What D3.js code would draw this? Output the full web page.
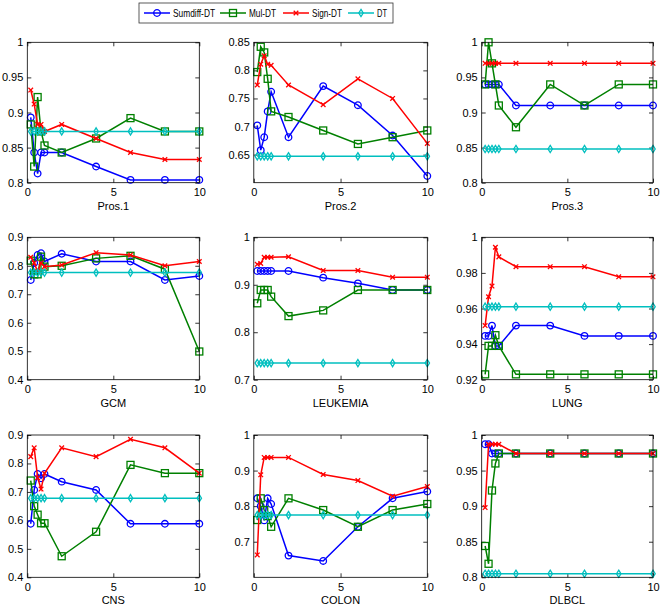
<!DOCTYPE html>
<html>
<head>
<meta charset="utf-8">
<script src="https://d3js.org/d3.v7.min.js"></script>
<style>
  body { margin: 0; background: #fff; }
  svg { display: block; font-family: "Liberation Sans", Arial, Helvetica, sans-serif; }
</style>
</head>
<body>
<svg width="661" height="608"></svg>
<script>
// parameter values on the x axis
const params = [0.2, 0.4, 0.6, 0.8, 1, 2, 4, 6, 8, 10];

const datasets = ["Pros.1", "Pros.2", "Pros.3", "GCM", "LEUKEMIA", "LUNG", "CNS", "COLON", "DLBCL"];
const methods = ["Sumdiff-DT", "Mul-DT", "Sign-DT", "DT"];

const sumdiffDT = [
    [0.893, 0.843, 0.813, 0.843, 0.843, 0.843, 0.823, 0.804, 0.804, 0.804],
    [0.702, 0.658, 0.681, 0.727, 0.762, 0.681, 0.772, 0.738, 0.684, 0.612],
    [0.94, 0.94, 0.94, 0.94, 0.94, 0.91, 0.91, 0.91, 0.91, 0.91],
    [0.75, 0.81, 0.838, 0.844, 0.815, 0.842, 0.815, 0.815, 0.75, 0.764],
    [0.929, 0.929, 0.929, 0.929, 0.929, 0.929, 0.915, 0.903, 0.889, 0.889],
    [0.9446, 0.9446, 0.9504, 0.939, 0.939, 0.9504, 0.9504, 0.9446, 0.9446, 0.9446],
    [0.588, 0.707, 0.763, 0.748, 0.763, 0.736, 0.707, 0.588, 0.588, 0.588],
    [0.822, 0.8, 0.76, 0.822, 0.806, 0.661, 0.646, 0.742, 0.822, 0.841],
    [0.987, 0.987, 0.974, 0.974, 0.974, 0.974, 0.974, 0.974, 0.974, 0.974]
];
const mulDT = [
    [0.883, 0.823, 0.922, 0.873, 0.853, 0.843, 0.863, 0.892, 0.873, 0.873],
    [0.797, 0.842, 0.832, 0.785, 0.727, 0.717, 0.693, 0.669, 0.681, 0.693],
    [0.94, 1.0, 0.97, 0.94, 0.91, 0.879, 0.94, 0.91, 0.94, 0.94],
    [0.818, 0.77, 0.77, 0.832, 0.797, 0.8, 0.826, 0.835, 0.788, 0.499],
    [0.861, 0.889, 0.889, 0.889, 0.875, 0.834, 0.846, 0.889, 0.889, 0.889],
    [0.923, 0.939, 0.939, 0.945, 0.939, 0.923, 0.923, 0.923, 0.923, 0.923],
    [0.74, 0.65, 0.62, 0.59, 0.59, 0.474, 0.56, 0.795, 0.766, 0.766],
    [0.761, 0.822, 0.789, 0.772, 0.742, 0.822, 0.789, 0.742, 0.789, 0.806],
    [0.844, 0.819, 0.922, 0.96, 0.974, 0.974, 0.974, 0.974, 0.974, 0.974]
];
const signDT = [
    [0.932, 0.912, 0.883, 0.883, 0.873, 0.883, 0.863, 0.843, 0.833, 0.833],
    [0.774, 0.811, 0.826, 0.811, 0.809, 0.774, 0.739, 0.785, 0.75, 0.67],
    [0.97, 0.97, 0.97, 0.97, 0.97, 0.97, 0.97, 0.97, 0.97, 0.97],
    [0.83, 0.81, 0.78, 0.81, 0.797, 0.803, 0.846, 0.838, 0.8, 0.815],
    [0.943, 0.945, 0.958, 0.958, 0.958, 0.959, 0.93, 0.93, 0.916, 0.916],
    [0.9504, 0.9666, 0.9726, 0.9944, 0.989, 0.9835, 0.9835, 0.9835, 0.9778, 0.9778],
    [0.824, 0.855, 0.75, 0.71, 0.765, 0.855, 0.824, 0.885, 0.855, 0.766],
    [0.663, 0.888, 0.937, 0.937, 0.937, 0.937, 0.889, 0.872, 0.828, 0.855],
    [0.898, 0.987, 0.987, 0.987, 0.987, 0.974, 0.974, 0.974, 0.974, 0.974]
];
const plainDT = [
    [0.873, 0.873, 0.873, 0.873, 0.873, 0.873, 0.873, 0.873, 0.873, 0.873],
    [0.647, 0.647, 0.647, 0.647, 0.647, 0.647, 0.647, 0.647, 0.647, 0.647],
    [0.848, 0.848, 0.848, 0.848, 0.848, 0.848, 0.848, 0.848, 0.848, 0.848],
    [0.776, 0.776, 0.776, 0.776, 0.776, 0.776, 0.776, 0.776, 0.776, 0.776],
    [0.735, 0.735, 0.735, 0.735, 0.735, 0.735, 0.735, 0.735, 0.735, 0.735],
    [0.961, 0.961, 0.961, 0.961, 0.961, 0.961, 0.961, 0.961, 0.961, 0.961],
    [0.678, 0.678, 0.678, 0.678, 0.678, 0.678, 0.678, 0.678, 0.678, 0.678],
    [0.775, 0.775, 0.775, 0.775, 0.775, 0.775, 0.775, 0.775, 0.775, 0.775],
    [0.805, 0.805, 0.805, 0.805, 0.805, 0.805, 0.805, 0.805, 0.805, 0.805]
];

// axis ranges and tick labels for each panel
const yDomains = [[0.8, 1], [0.6, 0.85], [0.8, 1], [0.4, 0.9], [0.7, 1], [0.92, 1], [0.4, 0.9], [0.6, 1], [0.8, 1]];
const yTicks = [
    [0.8, 0.85, 0.9, 0.95, 1],
    [0.65, 0.7, 0.75, 0.8, 0.85],
    [0.8, 0.85, 0.9, 0.95, 1],
    [0.4, 0.5, 0.6, 0.7, 0.8, 0.9],
    [0.7, 0.8, 0.9, 1],
    [0.92, 0.94, 0.96, 0.98, 1],
    [0.4, 0.5, 0.6, 0.7, 0.8, 0.9],
    [0.7, 0.8, 0.9, 1],
    [0.8, 0.85, 0.9, 0.95, 1]
];
const xTicks = [0, 5, 10];

const seriesData = [sumdiffDT, mulDT, signDT, plainDT];
const colors = ["#0000ff", "#008000", "#ff0000", "#00bfbf"];
const markers = ["circle", "square", "cross", "diamond"];

// panel grid (pixels)
const colLeft = [27.3, 253.8, 481.7];
const colRight = [199.3, 427.3, 653];
const rowTop = [42.3, 237.3, 435];
const rowBottom = [182.7, 379.7, 577.3];

const svg = d3.select("svg");
const fmt = v => String(+v.toFixed(2));

function drawMarker(g, type, color) {
    if (type === "circle") {
        g.append("circle").attr("r", 3.3).attr("fill", "none").attr("stroke", color).attr("stroke-width", 1.3);
    } else if (type === "square") {
        g.append("rect").attr("x", -3.5).attr("y", -3.5).attr("width", 7).attr("height", 7)
            .attr("fill", "none").attr("stroke", color).attr("stroke-width", 1.3);
    } else if (type === "cross") {
        g.append("path").attr("d", "M-2.3,-2.3L2.3,2.3M-2.3,2.3L2.3,-2.3")
            .attr("stroke", color).attr("stroke-width", 1.3);
    } else {
        g.append("path").attr("d", "M0,-3.6L2.2,0L0,3.6L-2.2,0Z")
            .attr("fill", "none").attr("stroke", color).attr("stroke-width", 1.3);
    }
}

datasets.forEach((name, k) => {
    const c = k % 3, r = Math.floor(k / 3);
    const x0 = colLeft[c], x1 = colRight[c], y0 = rowTop[r], y1 = rowBottom[r];

    const x = d3.scaleLinear().domain([0, 10]).range([x0, x1]);
    const y = d3.scaleLinear().domain(yDomains[k]).range([y1, y0]);

    const panel = svg.append("g");

    panel.append("rect")
        .attr("x", x0).attr("y", y0)
        .attr("width", x1 - x0).attr("height", y1 - y0)
        .attr("fill", "#fff");

    // axes with inward ticks, MATLAB style
    const axL = panel.append("g").attr("transform", `translate(${x0},0)`)
        .call(d3.axisLeft(y).tickValues(yTicks[k]).tickFormat(fmt).tickSize(-4).tickPadding(4));
    const axR = panel.append("g").attr("transform", `translate(${x1},0)`)
        .call(d3.axisRight(y).tickValues(yTicks[k]).tickFormat("").tickSize(-4));
    const axB = panel.append("g").attr("transform", `translate(0,${y1})`)
        .call(d3.axisBottom(x).tickValues(xTicks).tickFormat(d3.format("d")).tickSize(-4).tickPadding(6));
    const axT = panel.append("g").attr("transform", `translate(0,${y0})`)
        .call(d3.axisTop(x).tickValues(xTicks).tickFormat("").tickSize(-4));

    [axL, axR, axB, axT].forEach(a => {
        a.select(".domain").remove();
        a.selectAll(".tick line").attr("stroke", "#000").attr("stroke-width", 0.8);
        a.selectAll(".tick text").attr("font-size", 11).attr("fill", "#000")
            .attr("font-family", "Liberation Sans, Arial, sans-serif");
    });

    seriesData.forEach((series, s) => {
        const pts = params.map((p, i) => [p, series[k][i]]);
        const line = d3.line().x(d => x(d[0])).y(d => y(d[1]));
        panel.append("path")
            .attr("d", line(pts))
            .attr("fill", "none")
            .attr("stroke", colors[s])
            .attr("stroke-width", 1.5);
        pts.forEach(d => {
            const m = panel.append("g").attr("transform", `translate(${x(d[0])},${y(d[1])})`);
            drawMarker(m, markers[s], colors[s]);
        });
    });

    panel.append("rect")
        .attr("x", x0).attr("y", y0)
        .attr("width", x1 - x0).attr("height", y1 - y0)
        .attr("fill", "none").attr("stroke", "#000").attr("stroke-width", 0.8);

    panel.append("text")
        .attr("x", (x0 + x1) / 2)
        .attr("y", y1 + 27)
        .attr("text-anchor", "middle")
        .attr("font-size", 11)
        .text(name);
});

// legend
const legend = svg.append("g");
legend.append("rect")
    .attr("x", 139).attr("y", 3).attr("width", 254).attr("height", 20)
    .attr("fill", "#fff").attr("stroke", "#333").attr("stroke-width", 0.8);

const legX = [144, 220, 283, 348];
const legW = [42, 27, 30, 10];
methods.forEach((m, s) => {
    const lx = legX[s];
    legend.append("line")
        .attr("x1", lx).attr("x2", lx + 26).attr("y1", 13).attr("y2", 13)
        .attr("stroke", colors[s]).attr("stroke-width", 1.5);
    const mk = legend.append("g").attr("transform", `translate(${lx + 13},13)`);
    drawMarker(mk, markers[s], colors[s]);
    legend.append("text")
        .attr("x", lx + 29).attr("y", 17)
        .attr("font-size", 11)
        .attr("textLength", legW[s])
        .attr("lengthAdjust", "spacingAndGlyphs")
        .text(m);
});
</script>
</body>
</html>
